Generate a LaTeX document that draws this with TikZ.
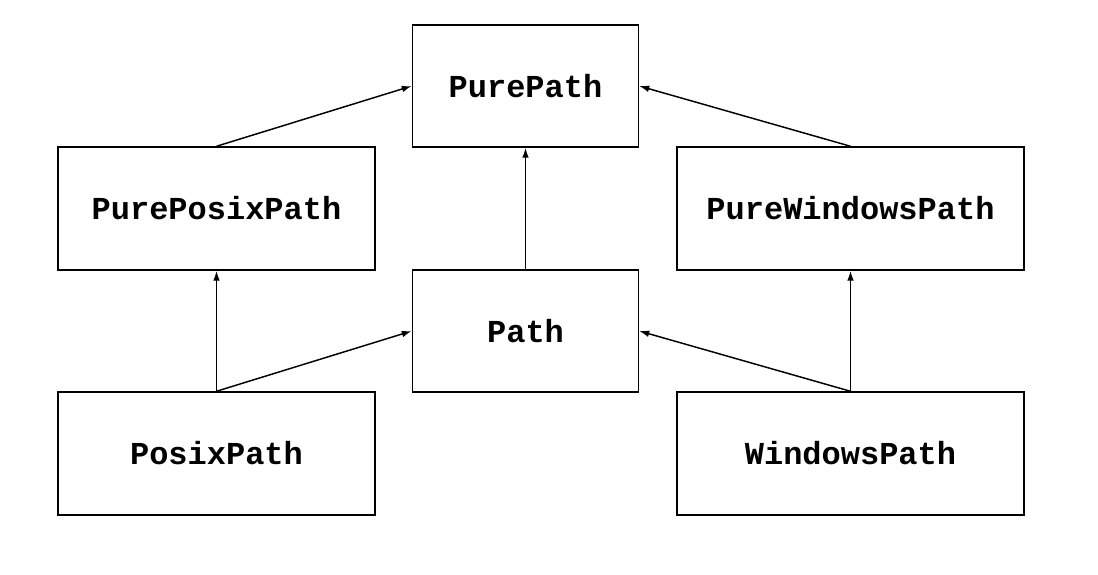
\documentclass[tikz,border=0pt]{standalone}
\usepackage{fontspec}
\setmonofont{Liberation Mono}
\usetikzlibrary{arrows.meta}

\begin{document}
\begin{tikzpicture}[x=0.75pt, y=-0.75pt,
	cls/.style={draw, line width=1.1pt, inner sep=0pt, font=\ttfamily\bfseries\fontsize{24}{28}\selectfont},
	inherit/.style={-{Latex[length=7.5pt, width=5pt]}, line width=1.1pt}]
	\useasboundingbox (0,0) rectangle (1098,574);
	% classes
	\node[cls, minimum width=169.5pt, minimum height=91.5pt] (purepath) at (525.5,86) {\raisebox{-1.5pt}{PurePath}};
	\node[cls, minimum width=237.75pt, minimum height=92.25pt] (pureposix) at (216.5,208.5) {\raisebox{-1.5pt}{PurePosixPath}};
	\node[cls, minimum width=260.25pt, minimum height=92.25pt] (purewin) at (850.5,208.5) {\raisebox{-1.5pt}{PureWindowsPath}};
	\node[cls, minimum width=169.5pt, minimum height=91.5pt] (path) at (525.5,331) {\raisebox{-1.5pt}{Path}};
	\node[cls, minimum width=237.75pt, minimum height=92.25pt] (posix) at (216.5,453.5) {\raisebox{-1.5pt}{PosixPath}};
	\node[cls, minimum width=260.25pt, minimum height=92.25pt] (win) at (850.5,453.5) {\raisebox{-1.5pt}{WindowsPath}};
	% inheritance
	\draw[inherit] (pureposix.north) -- (purepath.west);
	\draw[inherit] (purewin.north) -- (purepath.east);
	\draw[inherit] (path.north) -- (purepath.south);
	\draw[inherit] (posix.north) -- (pureposix.south);
	\draw[inherit] (posix.north) -- (path.west);
	\draw[inherit] (win.north) -- (path.east);
	\draw[inherit] (win.north) -- (purewin.south);
\end{tikzpicture}
\end{document}
